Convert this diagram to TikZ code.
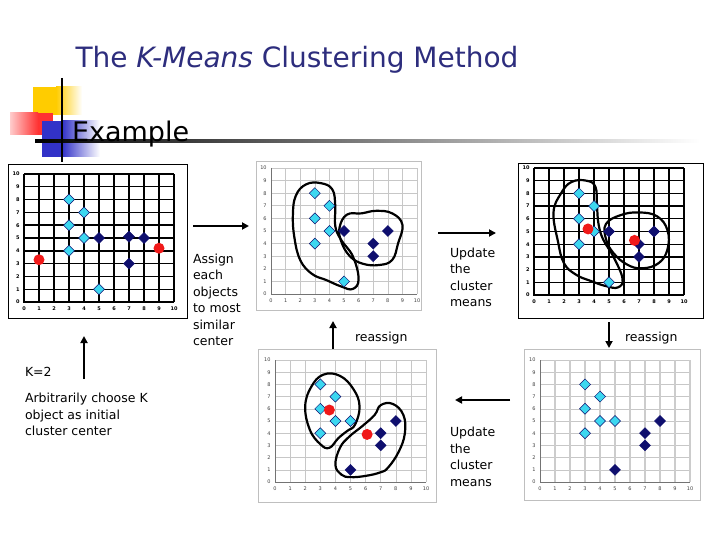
\documentclass[tikz,border=0pt]{standalone}
\usepackage{fontspec}
\setmainfont{DejaVu Sans}
\usepackage{tikz}
\usetikzlibrary{arrows.meta,positioning,shapes.geometric}
\definecolor{titleblue}{RGB}{45,45,125}
\definecolor{ptcyan}{RGB}{60,215,240}
\definecolor{ptnavy}{RGB}{15,15,110}
\definecolor{ptred}{RGB}{240,25,25}
\definecolor{sqyellow}{RGB}{255,204,0}
\definecolor{sqred}{RGB}{255,50,50}
\definecolor{sqblue}{RGB}{50,50,200}
\newcommand{\kmchart}[4]{%
  \foreach \g in {1,...,10} {
    \path[draw, #1] (\g,0) -- (\g,10);
    \path[draw, #1] (0,\g) -- (10,\g);
  }
  \path[draw, #2] (0,10) -- (0,0) -- (10,0);
  \foreach \g in {0,...,10} {
    \node[#3, anchor=north] (#4x\g) at (\g,-0.4) {\g};
    \node[#3, anchor=east] (#4y\g) at (-0.3,\g) {\g};
  }}

\begin{document}
\begin{tikzpicture}[
    x=1pt, y=-1pt,
    nosep/.style={inner sep=0, outer sep=0},
    heading/.style={nosep, text=titleblue, font=\fontsize{28}{30}\selectfont},
    subhead/.style={nosep, font=\fontsize{27}{29}\selectfont},
    note/.style={nosep, align=left, font=\fontsize{12.5}{16.5}\selectfont},
    flow/.style={line width=2pt, -{Triangle[length=7pt,width=7pt]}},
    darkgrid/.style={line width=1.4pt},
    lightgrid/.style={line width=0.6pt, draw=black!22},
    widegrid/.style={line width=1.4pt, draw=black!20},
    darkaxis/.style={line width=1.4pt},
    lightaxis/.style={line width=0.8pt, draw=black!55},
    darktick/.style={nosep, font=\fontsize{5}{5}\selectfont\bfseries},
    lighttick/.style={nosep, font=\fontsize{5}{5}\selectfont, text=black!75},
    darkframe/.style={line width=1pt},
    lightframe/.style={line width=1pt, draw=black!25},
    cpt/.style={diamond, nosep, minimum size=11pt, fill=ptcyan, draw=ptnavy, line width=0.5pt},
    npt/.style={diamond, nosep, minimum size=11pt, fill=ptnavy, draw=ptnavy},
    rpt/.style={circle, nosep, minimum size=11pt, fill=ptred},
    blob/.style={line width=2.2pt, line join=round}
]
\useasboundingbox (0,0) rectangle (720,540);

\path[fill=sqyellow] (33,87) rectangle (56,115);
\shade[left color=sqyellow, right color=white] (56,87) rectangle (82,115);
\shade[left color=sqred!25, right color=sqred] (10,113) rectangle (38,135);
\path[fill=sqred] (38,113) rectangle (53,135);
\path[fill=sqblue] (42,121) rectangle (62,157);
\shade[left color=sqblue, right color=white] (62,121) rectangle (100,157);
\shade[left color=black, middle color=black!50, right color=white] (35,140) rectangle (700,142.5);
\path[draw, line width=1.8pt] (62,78) -- (62,162);

\node[heading, anchor=base] (ttl) at (297,68) {The \textit{K-Means} Clustering Method};
\node[subhead, anchor=base west] (exm) at (72,142) {Example};

\path[draw, darkframe] (8,165) rectangle (187,318);
\begin{scope}[shift={(24,302)}, x=15pt, y=12.8pt]
\kmchart{darkgrid}{darkaxis}{darktick}{ga}
\foreach \px/\py [count=\k] in {3/8,4/7,3/6,4/5,3/4,5/1} \node[cpt] (ac\k) at (\px,\py) {};
\foreach \px/\py [count=\k] in {5/5,7/5.1,8/5,7/3} \node[npt] (an\k) at (\px,\py) {};
\node[rpt] (ar1) at (1,3.3) {};
\node[rpt] (ar2) at (9,4.2) {};
\end{scope}

\path[draw, lightframe] (256,162) rectangle (421,310);
\begin{scope}[shift={(271,294)}, x=14.6pt, y=12.6pt]
\kmchart{lightgrid}{lightaxis}{lighttick}{gb}
\path[draw, blob] plot[smooth cycle, tension=0.7] coordinates {(1.5,6.3) (1.7,7.8) (2.4,8.7) (3.4,8.8) (4.2,8.3) (4.4,7) (4.4,5.4) (4.8,4.3) (5.6,3) (6,1.2) (5.6,0.4) (4.8,0.6) (3.8,1.1) (2.8,1.6) (2,2.7) (1.6,4.5)};
\path[draw, blob] plot[smooth cycle, tension=0.7] coordinates {(4.7,5.3) (5.2,6.3) (6.2,6.4) (7.2,6.6) (8.3,6.4) (9,5.5) (8.7,4) (8.3,2.7) (7.4,2.3) (6.3,2.4) (5.4,3) (4.8,4.2)};
\foreach \px/\py [count=\k] in {3/8,4/7,3/6,4/5,3/4,5/1} \node[cpt] (bc\k) at (\px,\py) {};
\foreach \px/\py [count=\k] in {5/5,7/4,7/3,8/5} \node[npt] (bn\k) at (\px,\py) {};
\end{scope}

\path[draw, darkframe] (518,164) rectangle (703,318);
\begin{scope}[shift={(534,295)}, x=15pt, y=12.7pt]
\kmchart{darkgrid}{darkaxis}{darktick}{gc}
\path[draw, blob] plot[smooth cycle, tension=0.7] coordinates {(1.3,6.5) (1.8,8) (2.5,8.9) (3.5,9) (4.1,8.5) (4.2,7) (4.3,5.6) (4.6,4.4) (5.3,3) (5.9,1.3) (5.6,0.6) (4.8,0.7) (3.8,1.1) (2.8,1.6) (2,2.5) (1.6,4.2)};
\path[draw, blob] plot[smooth cycle, tension=0.7] coordinates {(4.8,5.6) (5.8,6.3) (7,6.5) (8.2,6.2) (8.9,5.1) (8.9,3.6) (8.3,2.5) (7.2,2.1) (6.2,2.4) (5.3,3.3) (4.8,4.4)};
\foreach \px/\py [count=\k] in {3/8,4/7,3/6,4/5,3/4,5/1} \node[cpt] (cc\k) at (\px,\py) {};
\foreach \px/\py [count=\k] in {5/5,8/5,7/4,7/3} \node[npt] (cn\k) at (\px,\py) {};
\node[rpt] (cr1) at (3.6,5.2) {};
\node[rpt] (cr2) at (6.7,4.3) {};
\end{scope}

\path[draw, lightframe] (258,349) rectangle (436,502);
\begin{scope}[shift={(275,482)}, x=15.1pt, y=12.2pt]
\kmchart{lightgrid}{lightaxis}{lighttick}{gd}
\path[draw, blob] plot[smooth cycle, tension=0.7] coordinates {(2,6.2) (2.4,7.8) (3.2,8.8) (4.3,8.7) (5.2,7.6) (5.6,6.2) (5.3,4.7) (4.8,4.2) (4.2,3.6) (3.6,2.8) (3,3.1) (2.3,4.3)};
\path[draw, blob] plot[smooth cycle, tension=0.7] coordinates {(7,6.3) (7.8,6.4) (8.5,5.5) (8.6,4) (8.2,2.5) (7.5,1.2) (7,0.8) (6,0.5) (5,0.4) (4.4,0.6) (4,1.4) (4.3,2.8) (4.9,3.7) (5.8,4.6) (6.6,5.5)};
\foreach \px/\py [count=\k] in {3/8,4/7,3/6,4/5,5/5,3/4} \node[cpt] (dc\k) at (\px,\py) {};
\foreach \px/\py [count=\k] in {8/5,7/4,7/3,5/1} \node[npt] (dn\k) at (\px,\py) {};
\node[rpt] (dr1) at (3.6,5.9) {};
\node[rpt] (dr2) at (6.1,3.9) {};
\end{scope}

\path[draw, lightframe] (524,349) rectangle (700,500);
\begin{scope}[shift={(540,482)}, x=15pt, y=12.2pt]
\kmchart{lightgrid}{lightaxis}{lighttick}{ge}
\foreach \g in {1,...,10} \path[draw, widegrid] (\g,0) -- (\g,10);
\foreach \px/\py [count=\k] in {3/8,4/7,3/6,4/5,5/5,3/4} \node[cpt] (ec\k) at (\px,\py) {};
\foreach \px/\py [count=\k] in {8/5,7/4,7/3,5/1} \node[npt] (en\k) at (\px,\py) {};
\end{scope}

\node[note, anchor=north west] (asg) at (193,254) {Assign\\each\\objects\\to most\\similar\\center};
\node[note, anchor=north west] (kk) at (25,367) {K=2};
\node[note, anchor=north west] (arb) at (25,393) {Arbitrarily choose K\\object as initial\\cluster center};
\node[note, anchor=north west] (upd1) at (450,248) {Update\\the\\cluster\\means};
\node[note, anchor=base west] (rea1) at (355,341) {reassign};
\node[note, anchor=base west] (rea2) at (625,341) {reassign};
\node[note, anchor=north west] (upd2) at (450,427) {Update\\the\\cluster\\means};

\coordinate (a1s) at (193,226);
\coordinate (a1e) at (249,226);
\coordinate (a2s) at (84,379);
\coordinate (a2e) at (84,336);
\coordinate (a3s) at (333,349);
\coordinate (a3e) at (333,321);
\coordinate (a4s) at (438,233);
\coordinate (a4e) at (496,233);
\coordinate (a5s) at (609,322);
\coordinate (a5e) at (609,348);
\coordinate (a6s) at (510,400);
\coordinate (a6e) at (455,400);
\path[draw, flow] (a1s) -- (a1e);
\path[draw, flow] (a2s) -- (a2e);
\path[draw, flow] (a3s) -- (a3e);
\path[draw, flow] (a4s) -- (a4e);
\path[draw, flow] (a5s) -- (a5e);
\path[draw, flow] (a6s) -- (a6e);

\end{tikzpicture}
\end{document}
